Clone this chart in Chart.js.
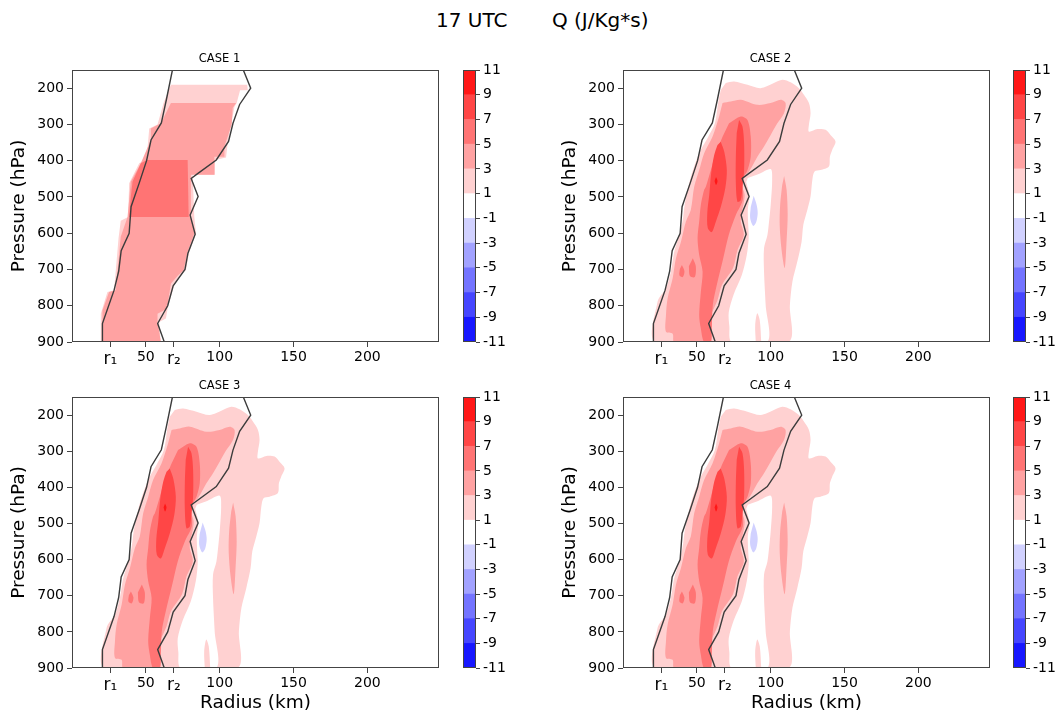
<!DOCTYPE html>
<html>
<head>
<meta charset="utf-8">
<script src="https://cdn.jsdelivr.net/npm/chart.js@4.4.0/dist/chart.umd.min.js"></script>
<style>
  body { margin: 0; background: #fff; width: 1064px; height: 717px; position: relative; overflow: hidden; font-family: "DejaVu Sans", sans-serif; }
  canvas { position: absolute; }
  #title { position: absolute; left: 436px; top: 8px; font-size: 20px; line-height: 24px; white-space: pre; color: #000; }
</style>
</head>
<body>
<div id="title">17 UTC       Q (J/Kg*s)</div>
<canvas id="case1" width="441" height="320" style="left:0px;top:50px"></canvas>
<canvas id="bar1" width="50" height="296" style="left:463px;top:58px"></canvas>
<canvas id="case2" width="441" height="320" style="left:551px;top:50px"></canvas>
<canvas id="bar2" width="50" height="296" style="left:1013px;top:58px"></canvas>
<canvas id="case3" width="441" height="339" style="left:0px;top:377px"></canvas>
<canvas id="bar3" width="50" height="295" style="left:463px;top:385px"></canvas>
<canvas id="case4" width="441" height="339" style="left:551px;top:377px"></canvas>
<canvas id="bar4" width="50" height="295" style="left:1013px;top:385px"></canvas>
<script>
// axes
const pressureTicks = [200, 300, 400, 500, 600, 700, 800, 900];
const radiusTicks = [26, 50, 69, 100, 150, 200];
const radiusTickLabels = ['r\u2081', '50', 'r\u2082', '100', '150', '200'];

// contour levels (J/Kg*s) and their fill colours
const levelBounds = [-11, -9, -7, -5, -3, -1, 1, 3, 5, 7, 9, 11];
const levelColors = ['rgb(23,23,255)', 'rgb(70,70,255)', 'rgb(116,116,255)', 'rgb(162,162,255)', 'rgb(209,209,255)',
  'rgb(255,255,255)', 'rgb(255,209,209)', 'rgb(255,162,162)', 'rgb(255,116,116)', 'rgb(255,70,70)', 'rgb(255,23,23)'];

// r1 / r2 boundaries [radius km, pressure hPa]
const r1Line = [[68,150],[64,230],[60.5,296],[53.5,343],[50.5,400],[45.5,462],[40,527],[38.7,600],[33.3,648],[31.6,705],[28.5,757],[20.6,849],[20.6,900]];
const r2Line = [[116,150],[121,200],[113.5,245],[109,297],[106,347],[97.7,398],[85.3,435],[80.7,449],[85.4,499],[80,550],[83.4,603],[78.5,655],[76.5,700],[68.5,745],[64.8,800],[58,849],[62.5,900]];

// CASE 1 filled regions
const case1Q1to3 = [[67,191],[118.6,191],[119,206],[113.8,206],[111.5,241],[110,251],[105.4,352],[104.3,391],[96.8,398],[96.8,439],[81.7,439],[82.8,555],[84,601],[79.4,651],[77.1,702],[73.1,716],[69.2,743],[64.7,808],[63.6,835],[59,845],[60,900],[19.5,900],[19.5,822],[24,762],[28.5,757],[31.5,614],[33,566],[38,555],[38.7,462],[45.5,407],[50.5,395],[52.3,311],[57.9,300],[62,241],[66,200]];
const case1Q3to5 = [[67,241],[111.1,241],[108.8,255],[108.1,301],[103.2,361],[103.2,389],[96.4,389],[96.4,439],[80.5,439],[80.5,555],[82.8,601],[78.3,651],[75.6,702],[71.9,716],[67,739],[64.3,808],[57.9,822],[57.9,845],[60.2,900],[20.6,900],[20.6,813],[25.1,762],[29.6,757],[33,610],[37.6,555],[39.8,458],[46.6,407],[52.9,347],[53.4,311],[60.2,297]];
const case1Q5to7 = [[50.7,398],[78.3,398],[79,555],[38.7,555],[39.8,500],[41,458],[46.6,407]];

// CASE 2 filled regions (cases 3 and 4 show the same field)
const case2Q1to3 = [[69.6,186],[75.2,182],[84.3,191],[93.2,200],[102.2,186],[107.9,177],[113.5,184],[119.1,200],[122.5,218],[125.9,241],[127,269],[125.9,301],[125.9,320],[131.6,313],[137.2,315],[140.5,329],[143.9,347],[141.7,370],[140.1,389],[139.4,416],[133.8,426],[129.7,430],[128.2,453],[127,499],[124.8,536],[122.1,577],[120.9,624],[118,679],[114.7,734],[113,798],[111.7,900],[22.3,900],[23.4,789],[29.1,752],[32.4,706],[34.7,651],[37.4,614],[40.3,568],[41.9,518],[44.8,462],[48.2,416],[52.7,370],[57.2,338],[62.2,297],[64.4,241],[66.2,205]];
const case2Neg1to1 = [[84.5,448],[91.9,437],[100,423],[101,453],[100,522],[98.9,568],[97.8,605],[95.5,641],[95.5,706],[96.6,798],[97.8,900],[73.6,900],[72,856],[71.6,818],[75,768],[80.4,716],[83.8,660],[85.1,613],[84.8,578],[84.5,536],[85.5,497],[83.4,459]];
const case2Q1to3Sliver = [[89.9,900],[89.5,854],[90.9,821],[92.6,840],[93.6,900]];
const case2Neg3toNeg1 = [[88.5,497],[90.5,522],[91.2,544],[90.2,569],[88.2,580],[86.1,558],[86.5,528]];
const case2Q3to5 = [[67.4,241],[73,237],[79.7,232],[91,246],[100,241],[106.8,232],[110.1,241],[109,269],[104.5,297],[100,329],[95.5,361],[91,389],[85.1,431],[79.7,453],[82.4,495],[79.7,564],[81.8,605],[77.5,647],[74.5,696],[67,743],[64,785],[59.5,826],[56.1,868],[56.8,900],[34.7,900],[33.6,877],[29.1,872],[29.1,826],[30.2,780],[33.6,725],[35.8,670],[39.2,624],[42.6,568],[45.9,536],[48.2,472],[51.6,426],[54.9,380],[60.6,334],[65.1,278]];
const case2Q3to5Streak = [[109.1,442],[110.8,481],[111.5,550],[110.8,619],[109.5,696],[107.4,647],[106.1,578],[106.4,522],[107.8,467]];
const case2Q5to7 = [[71.8,297],[79.7,278],[84.3,288],[86.5,334],[86.5,389],[84.3,426],[81.1,453],[81.1,508],[76.4,550],[71.6,605],[67.6,674],[63.5,743],[60.8,798],[60.1,868],[59.5,900],[54.9,900],[52.7,863],[51.6,826],[52.7,762],[53.9,706],[51.6,660],[50.5,614],[51.6,568],[52.7,522],[54.9,481],[56.1,472],[59.5,426],[62.8,380],[67.4,334]];
const case2Q5to7BlobA = [[39.9,688],[41.6,705],[40.5,721],[38.2,716],[38.5,699]];
const case2Q5to7BlobB = [[47.3,669],[49.3,691],[48.6,721],[45.3,718],[44.6,691]];
const case2Q7to9Left = [[66.2,348],[68.6,376],[70.3,426],[69.3,475],[66.2,528],[62.8,569],[60.1,597],[57.4,586],[57.1,542],[58.4,495],[59.8,431],[61.8,384],[64,357]];
const case2Q7to9Right = [[78.6,288],[80.9,306],[82,352],[82,426],[80.9,472],[79.7,509],[77.5,513],[76.4,462],[76.4,389],[77,324]];
const case2Q9to11 = [[63,445],[64,456],[63,467],[62,456]];

// [region, lower level], painted in this order
const case1Layers = [[case1Q1to3, 1], [case1Q3to5, 3], [case1Q5to7, 5]];
const case2Layers = [
  [case2Q1to3, 1], [case2Neg1to1, -1], [case2Q1to3Sliver, 1], [case2Neg3toNeg1, -3],
  [case2Q3to5, 3], [case2Q3to5Streak, 3], [case2Q5to7, 5], [case2Q5to7BlobA, 5], [case2Q5to7BlobB, 5],
  [case2Q7to9Left, 7], [case2Q7to9Right, 7], [case2Q9to11, 9]
];

const FONT = 'DejaVu Sans';

const framePlugin = {
  id: 'frame',
  afterDraw(chart) {
    const { ctx, chartArea: a } = chart;
    ctx.save();
    ctx.strokeStyle = '#444';
    ctx.lineWidth = 1;
    ctx.strokeRect(Math.round(a.left) + 0.5, Math.round(a.top) + 0.5, Math.round(a.width) - 1, Math.round(a.height) - 1);
    ctx.restore();
  }
};

function colorFor(lower) {
  return levelColors[levelBounds.indexOf(lower)];
}

function tickFont(c) {
  const label = radiusTickLabels[c.index];
  return { family: FONT, size: label && label[0] === 'r' ? 17 : 14 };
}

function contourPanel(id, title, layers, tension, xTitle) {
  const datasets = layers.map(([pts, lower], i) => ({
    data: pts.map(([x, y]) => ({ x, y })),
    fill: 'shape',
    backgroundColor: colorFor(lower),
    borderColor: 'rgba(0,0,0,0)',
    borderWidth: 0,
    pointRadius: 0,
    tension: tension,
    order: 100 - i
  }));
  [r1Line, r2Line].forEach(pts => datasets.push({
    data: pts.map(([x, y]) => ({ x, y })),
    fill: false,
    borderColor: '#3c3c3c',
    borderWidth: 1.4,
    pointRadius: 0,
    tension: 0,
    order: 0
  }));

  new Chart(document.getElementById(id), {
    type: 'line',
    data: { datasets },
    options: {
      responsive: false,
      animation: false,
      events: [],
      layout: { padding: { left: 0, right: 2, top: 0, bottom: 0 } },
      plugins: {
        legend: { display: false },
        tooltip: { enabled: false },
        title: {
          display: true, text: title, color: '#000',
          font: { family: FONT, size: 11.5, weight: 'normal', lineHeight: '14px' },
          padding: { top: 2, bottom: 4 }
        }
      },
      scales: {
        x: {
          type: 'linear', min: 0, max: 248.5,
          afterBuildTicks: s => { s.ticks = radiusTicks.map(v => ({ value: v })); },
          afterFit: s => { s.height = xTitle ? 48 : 28; },
          ticks: {
            autoSkip: false, maxRotation: 0, padding: 2, color: '#000',
            font: tickFont,
            callback: (v, i) => radiusTickLabels[i]
          },
          grid: { drawOnChartArea: false, color: '#444', tickLength: 5 },
          border: { display: false },
          title: { display: !!xTitle, text: xTitle || '', color: '#000', font: { family: FONT, size: 18.5 }, padding: { top: 0, bottom: 2 } }
        },
        y: {
          type: 'linear', min: 150, max: 900, reverse: true,
          afterBuildTicks: s => { s.ticks = pressureTicks.map(v => ({ value: v })); },
          afterFit: s => { s.width = 72; },
          ticks: { padding: 3, color: '#000', font: { family: FONT, size: 14 } },
          grid: { drawOnChartArea: false, color: '#444', tickLength: 5 },
          border: { display: false },
          title: { display: true, text: 'Pressure (hPa)', color: '#000', font: { family: FONT, size: 18.5 }, padding: { top: 8, bottom: 0 } }
        }
      }
    },
    plugins: [framePlugin]
  });
}

function colorbar(id) {
  new Chart(document.getElementById(id), {
    type: 'bar',
    data: {
      labels: [''],
      datasets: levelColors.map((c, i) => ({
        data: [[levelBounds[i], levelBounds[i + 1]]],
        backgroundColor: c,
        borderWidth: 0,
        grouped: false,
        barPercentage: 1,
        categoryPercentage: 1
      }))
    },
    options: {
      responsive: false,
      animation: false,
      events: [],
      layout: { padding: { left: 0, right: 0, top: 12, bottom: 12 } },
      plugins: { legend: { display: false }, tooltip: { enabled: false } },
      scales: {
        x: { display: false },
        y: {
          position: 'right', min: -11, max: 11,
          afterBuildTicks: s => { s.ticks = levelBounds.map(v => ({ value: v })); },
          afterFit: s => { s.width = 37; },
          ticks: { padding: 3, color: '#000', font: { family: FONT, size: 14 } },
          grid: { drawOnChartArea: false, color: '#444', tickLength: 4 },
          border: { display: false }
        }
      }
    },
    plugins: [framePlugin]
  });
}

contourPanel('case1', 'CASE 1', case1Layers, 0, null);
contourPanel('case2', 'CASE 2', case2Layers, 0.3, null);
contourPanel('case3', 'CASE 3', case2Layers, 0.3, 'Radius (km)');
contourPanel('case4', 'CASE 4', case2Layers, 0.3, 'Radius (km)');
['bar1', 'bar2', 'bar3', 'bar4'].forEach(colorbar);
</script>
</body>
</html>
